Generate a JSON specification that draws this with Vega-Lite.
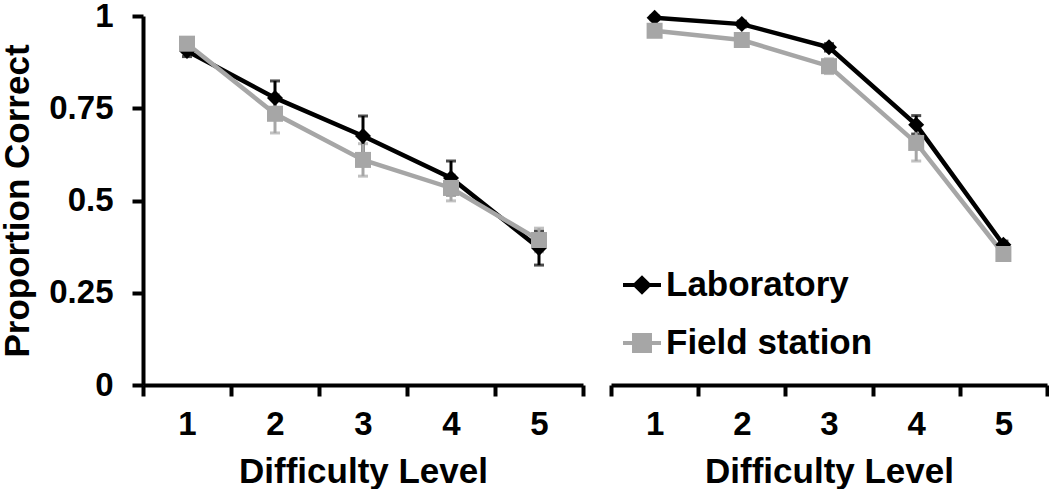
{
  "$schema": "https://vega.github.io/schema/vega-lite/v6.json",
  "padding": {"left": 0, "top": 0, "right": 0, "bottom": 0},
  "background": "white",
  "config": {
    "font": "Liberation Sans",
    "view": {"stroke": null},
    "axis": {
      "domainColor": "#000000", "domainWidth": 4, "tickColor": "#000000", "tickWidth": 4, "tickSize": 11,
      "labelFont": "Liberation Sans", "labelFontWeight": "bold", "labelFontSize": 33, "labelColor": "#000000",
      "titleFont": "Liberation Sans", "titleFontWeight": "bold", "titleFontSize": 35, "titleColor": "#000000",
      "grid": false
    }
  },
  "data": {"values": [
    {"panel": "A", "group": "Laboratory", "level": 1, "mean": 0.905, "lo": 0.89, "hi": 0.92},
    {"panel": "A", "group": "Laboratory", "level": 2, "mean": 0.778, "lo": 0.732, "hi": 0.824},
    {"panel": "A", "group": "Laboratory", "level": 3, "mean": 0.675, "lo": 0.621, "hi": 0.729},
    {"panel": "A", "group": "Laboratory", "level": 4, "mean": 0.561, "lo": 0.515, "hi": 0.607},
    {"panel": "A", "group": "Laboratory", "level": 5, "mean": 0.371, "lo": 0.325, "hi": 0.417},
    {"panel": "A", "group": "Field station", "level": 1, "mean": 0.925, "lo": 0.91, "hi": 0.94},
    {"panel": "A", "group": "Field station", "level": 2, "mean": 0.735, "lo": 0.683, "hi": 0.787},
    {"panel": "A", "group": "Field station", "level": 3, "mean": 0.61, "lo": 0.566, "hi": 0.654},
    {"panel": "A", "group": "Field station", "level": 4, "mean": 0.534, "lo": 0.499, "hi": 0.569},
    {"panel": "A", "group": "Field station", "level": 5, "mean": 0.393, "lo": 0.361, "hi": 0.425},
    {"panel": "B", "group": "Laboratory", "level": 1, "mean": 0.995, "lo": 0.99, "hi": 1.0},
    {"panel": "B", "group": "Laboratory", "level": 2, "mean": 0.978, "lo": 0.97, "hi": 0.986},
    {"panel": "B", "group": "Laboratory", "level": 3, "mean": 0.915, "lo": 0.905, "hi": 0.925},
    {"panel": "B", "group": "Laboratory", "level": 4, "mean": 0.705, "lo": 0.68, "hi": 0.73},
    {"panel": "B", "group": "Laboratory", "level": 5, "mean": 0.38, "lo": 0.37, "hi": 0.39},
    {"panel": "B", "group": "Field station", "level": 1, "mean": 0.96, "lo": 0.952, "hi": 0.968},
    {"panel": "B", "group": "Field station", "level": 2, "mean": 0.935, "lo": 0.925, "hi": 0.945},
    {"panel": "B", "group": "Field station", "level": 3, "mean": 0.864, "lo": 0.844, "hi": 0.884},
    {"panel": "B", "group": "Field station", "level": 4, "mean": 0.656, "lo": 0.607, "hi": 0.705},
    {"panel": "B", "group": "Field station", "level": 5, "mean": 0.355, "lo": 0.345, "hi": 0.365}
  ]},
  "resolve": {"scale": {"color": "independent"}, "legend": {"color": "independent"}},
  "spacing": 24,
  "hconcat": [
    {
      "width": 440, "height": 369,
      "transform": [{"filter": "datum.panel === 'A'"}],
      "encoding": {
        "x": {"field": "level", "type": "ordinal", "scale": {"type": "band", "paddingInner": 0, "paddingOuter": 0},
              "axis": {"title": "Difficulty Level", "labelAngle": 0, "tickBand": "extent", "labelPadding": 12, "titlePadding": 13}},
        "color": {"field": "group", "type": "nominal", "scale": {"domain": ["Laboratory", "Field station"], "range": ["#000000", "#a6a6a6"]}, "legend": null}
      },
      "layer": [
        {"mark": {"type": "errorbar", "ticks": {"size": 10, "thickness": 3}, "thickness": 3},
         "encoding": {"y": {"field": "lo", "type": "quantitative", "scale": {"domain": [0, 1], "nice": false},
                            "axis": {"title": "Proportion Correct", "values": [0, 0.25, 0.5, 0.75, 1], "labelExpr": "'' + datum.value", "labelPadding": 19, "titlePadding": 13}},
                      "y2": {"field": "hi"}}},
        {"mark": {"type": "line", "strokeWidth": 4.5},
         "encoding": {"y": {"field": "mean", "type": "quantitative"}}},
        {"transform": [{"filter": "datum.group === 'Laboratory'"}],
         "mark": {"type": "point", "shape": "diamond", "filled": true, "size": 256, "opacity": 1},
         "encoding": {"y": {"field": "mean", "type": "quantitative"}}},
        {"transform": [{"filter": "datum.group === 'Field station'"}],
         "mark": {"type": "point", "shape": "square", "filled": true, "size": 256, "opacity": 1},
         "encoding": {"y": {"field": "mean", "type": "quantitative"}}}
      ]
    },
    {
      "width": 436, "height": 369,
      "transform": [{"filter": "datum.panel === 'B'"}],
      "encoding": {
        "x": {"field": "level", "type": "ordinal", "scale": {"type": "band", "paddingInner": 0, "paddingOuter": 0},
              "axis": {"title": "Difficulty Level", "labelAngle": 0, "tickBand": "extent", "labelPadding": 12, "titlePadding": 13}},
        "color": {"field": "group", "type": "nominal", "scale": {"domain": ["Laboratory", "Field station"], "range": ["#000000", "#a6a6a6"]},
                  "legend": {"title": null, "orient": "none", "legendX": 10, "legendY": 248, "symbolSize": 1444, "symbolStrokeWidth": 4, "labelLimit": 0,
                             "labelFont": "Liberation Sans", "labelFontWeight": "bold", "labelFontSize": 35, "labelColor": "#000000", "labelOffset": 3, "rowPadding": 19,
                             "encode": {"symbols": {"update": {
                               "shape": {"signal": "datum.value === 'Laboratory' ? 'M-1,0L1,0M-0.37,0L0,-0.37L0.37,0L0,0.37Z' : 'M-1,0L1,0M-0.42,-0.42L0.42,-0.42L0.42,0.42L-0.42,0.42Z'"},
                               "fill": {"signal": "datum.value === 'Laboratory' ? '#000000' : '#a6a6a6'"},
                               "stroke": {"signal": "datum.value === 'Laboratory' ? '#000000' : '#a6a6a6'"},
                               "strokeWidth": {"value": 4},
                               "opacity": {"value": 1}
                             }}}}}
      },
      "layer": [
        {"mark": {"type": "errorbar", "ticks": {"size": 10, "thickness": 3}, "thickness": 3},
         "encoding": {"y": {"field": "lo", "type": "quantitative", "scale": {"domain": [0, 1], "nice": false}, "axis": null},
                      "y2": {"field": "hi"}}},
        {"mark": {"type": "line", "strokeWidth": 4.5},
         "encoding": {"y": {"field": "mean", "type": "quantitative", "axis": null}}},
        {"transform": [{"filter": "datum.group === 'Laboratory'"}],
         "mark": {"type": "point", "shape": "diamond", "filled": true, "size": 256, "opacity": 1},
         "encoding": {"y": {"field": "mean", "type": "quantitative", "axis": null}}},
        {"transform": [{"filter": "datum.group === 'Field station'"}],
         "mark": {"type": "point", "shape": "square", "filled": true, "size": 256, "opacity": 1},
         "encoding": {"y": {"field": "mean", "type": "quantitative", "axis": null}}}
      ]
    }
  ]
}
